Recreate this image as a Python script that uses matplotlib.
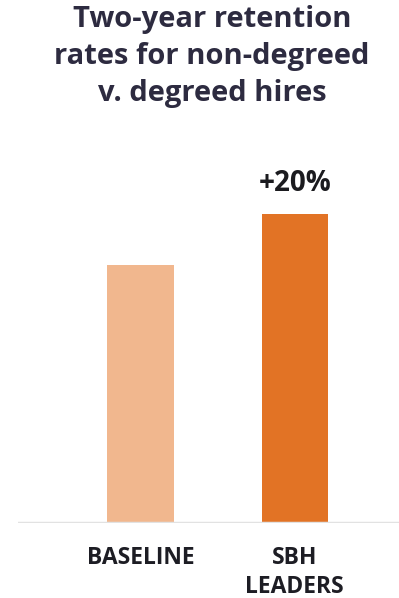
import matplotlib
matplotlib.use('Agg')
import matplotlib.pyplot as plt

# Retention values (baseline normalised to 1)
categories = ["BASELINE", "SBH\nLEADERS"]
retention = [1.0, 1.2]
bar_labels = ["", "+20%"]
colors = ["#f1b78e", "#e27325"]

plt.rcParams['font.family'] = ['Open Sans', 'DejaVu Sans']

fig = plt.figure(figsize=(3.99, 5.98), dpi=100)
ax = fig.add_axes([0.045, 0.1254, 0.955, 0.56])

x = range(len(categories))
bars = ax.bar(x, retention, width=0.43, color=colors)

for bar, label in zip(bars, bar_labels):
    if label:
        ax.text(bar.get_x() + bar.get_width() / 2, bar.get_height() + 0.06, label,
                ha="center", va="bottom", fontsize=20, fontweight="bold", color="#1b1b1f")

ax.set_xlim(-0.794, 1.676)
ax.set_ylim(0, 1.3)
ax.axhline(0, color="#e2e2e2", linewidth=2.5)

for xi, cat in zip(x, categories):
    ax.text(xi, -0.088, cat, ha="center", va="top", fontsize=16.5, fontweight="bold",
            color="#1d1d24", linespacing=1.27)

for side in ["top", "right", "left", "bottom"]:
    ax.spines[side].set_visible(False)
ax.set_xticks([])
ax.set_yticks([])

fig.text(0.531, 0.992, "Two-year retention\nrates for non-degreed\nv. degreed hires",
         ha="center", va="top", fontsize=21, fontweight="bold", color="#2d2b40",
         linespacing=1.37)

fig.savefig("out.png", dpi=100)
